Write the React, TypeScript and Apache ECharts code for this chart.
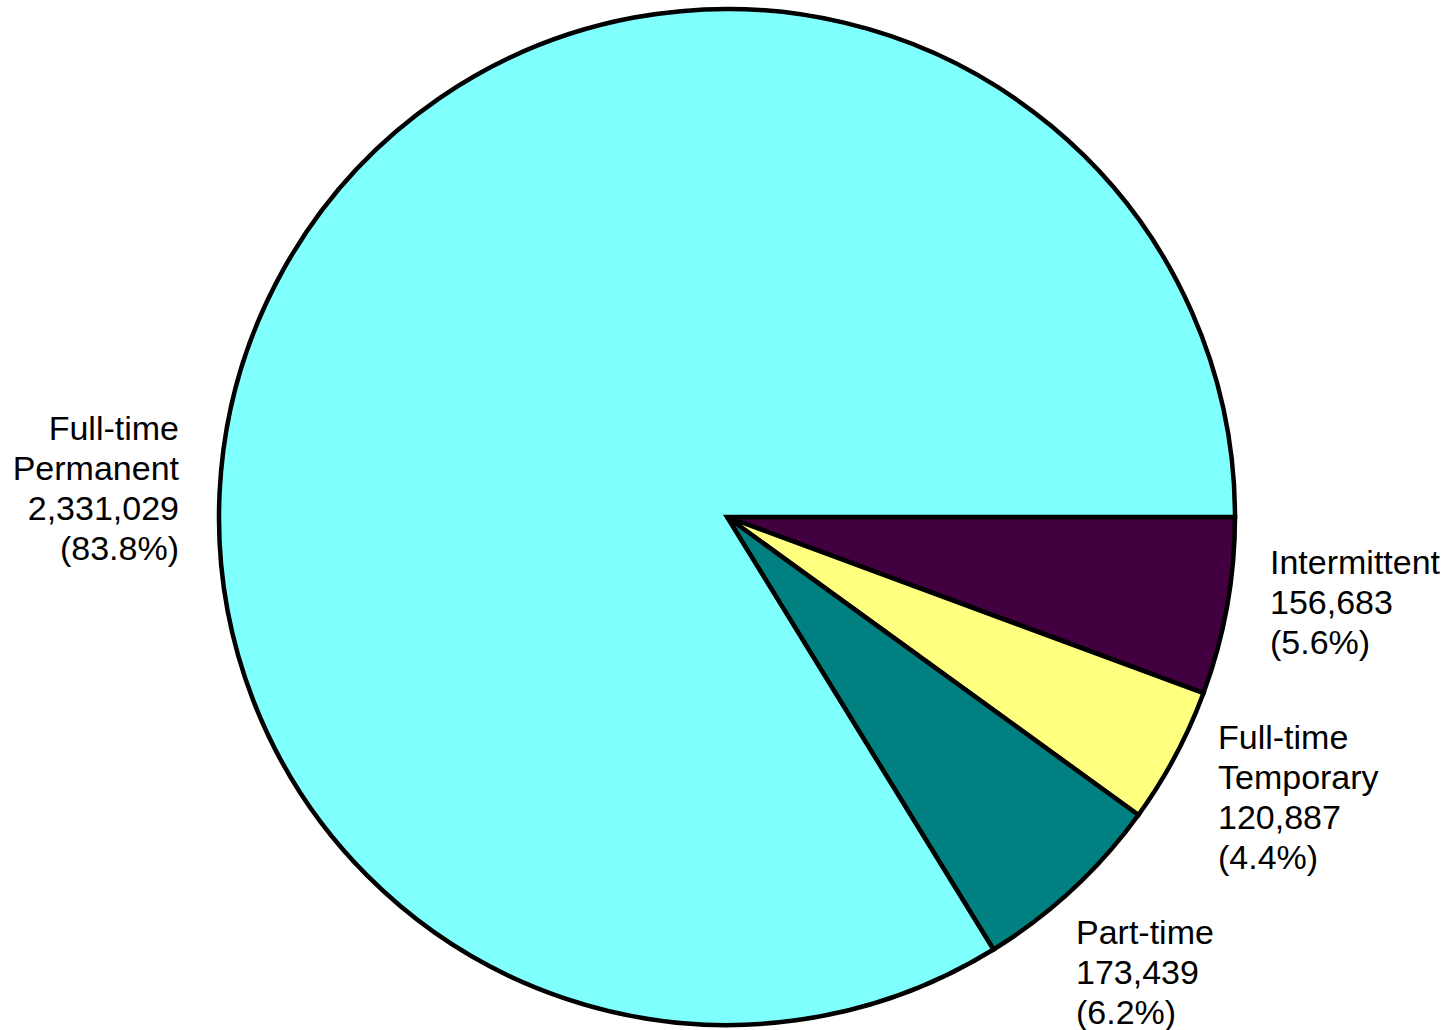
import React, { useEffect, useRef } from "react";
import * as echarts from "echarts";

const categories = ["Intermittent", "Full-time\nTemporary", "Part-time", "Full-time\nPermanent"];
const values = [156683, 120887, 173439, 2331029];
const colors = ["#420040", "#FFFF80", "#008080", "#80FFFF"];

// label anchor positions (x, y of text block, alignment)
const labelPos = [
  { x: 1270, y: 542, align: "left" },
  { x: 1218, y: 717, align: "left" },
  { x: 1076, y: 912, align: "left" },
  { x: 179, y: 408, align: "right" },
];

export default function App() {
  const ref = useRef<HTMLDivElement>(null);
  useEffect(() => {
    document.body.style.margin = "0";
    const chart = echarts.init(ref.current!, null, { renderer: "svg" });
    chart.setOption({
      animation: false,
      backgroundColor: "#ffffff",
      series: [
        {
          type: "pie",
          center: [727, 517],
          radius: 508,
          startAngle: 0,
          clockwise: true,
          percentPrecision: 1,
          avoidLabelOverlap: false,
          silent: true,
          data: categories.map((name, i) => ({
            name,
            value: values[i],
            itemStyle: { color: colors[i] },
          })),
          itemStyle: { borderColor: "#000000", borderWidth: 4.5, borderJoin: "miter" },
          label: {
            show: true,
            position: "outside",
            fontFamily: "'Liberation Sans', Arial, sans-serif",
            fontSize: 34,
            lineHeight: 40,
            color: "#000000",
            formatter: (p: any) =>
              `${p.name}\n${Number(p.value).toLocaleString("en-US")}\n(${p.percent}%)`,
          },
          labelLine: { show: false },
          labelLayout: (params: any) => {
            const lp = labelPos[params.dataIndex];
            return { x: lp.x, y: lp.y, align: lp.align, verticalAlign: "top" };
          },
        },
      ],
    });
    return () => chart.dispose();
  }, []);
  return <div ref={ref} style={{ width: 1451, height: 1030 }} />;
}
